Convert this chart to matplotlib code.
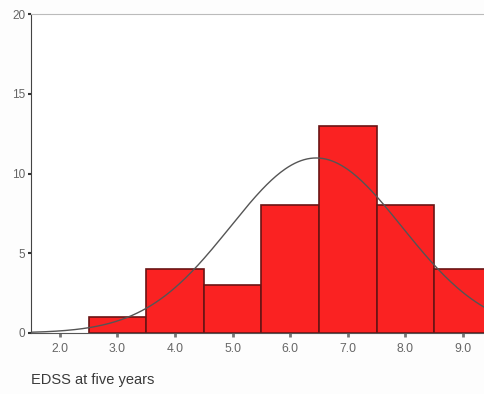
import numpy as np
import matplotlib.pyplot as plt

# EDSS scores (bin centres) and counts
edss = [3.0, 4.0, 5.0, 6.0, 7.0, 8.0, 9.0]
counts = [1, 4, 3, 8, 13, 8, 4]
xticks = [2.0, 3.0, 4.0, 5.0, 6.0, 7.0, 8.0, 9.0]
yticks = [0, 5, 10, 15, 20]

# fitted normal curve, parameters
curve_mean = 6.45
curve_sd = 1.49

plt.rcParams['font.family'] = ['Liberation Sans', 'DejaVu Sans']

fig = plt.figure(figsize=(4.85, 3.94), dpi=100)
ax = fig.add_axes([0.064, 0.155, 0.95, 0.809])

ax.bar(edss, counts, width=1.0, color='#fa2222', edgecolor='#6a1414', linewidth=1.2, zorder=2)

n = sum(counts)
xs = np.linspace(1.5, 9.6, 300)
ys = n * 1.0 / (curve_sd * np.sqrt(2 * np.pi)) * np.exp(-0.5 * ((xs - curve_mean) / curve_sd) ** 2)
ax.plot(xs, ys, color='#555555', linewidth=1.0, zorder=3)

ax.set_xlim(1.5, 9.5)
ax.set_ylim(0, 20)
ax.set_xticks(xticks)
ax.set_xticklabels([f"{t:.1f}" for t in xticks])
ax.set_yticks(yticks)

ax.spines['right'].set_visible(False)
ax.spines['top'].set_color('#bbbbbb')
ax.spines['top'].set_linewidth(0.8)
ax.spines['left'].set_color('#444444')
ax.spines['bottom'].set_color('#555555')
ax.spines['left'].set_linewidth(0.8)
ax.spines['bottom'].set_linewidth(0.8)

ax.tick_params(axis='x', length=3, width=2, color='#777777', labelsize=8.7, labelcolor='#666666', pad=4)
ax.tick_params(axis='y', length=2, width=1.5, color='#333333', labelsize=8.5, labelcolor='#666666', pad=2)

fig.text(0.064, 0.018, "EDSS at five years", fontsize=10.5, color='#3a3a3a', ha='left', va='bottom')

fig.savefig("out.png", dpi=100, facecolor='#fdfdfd')
